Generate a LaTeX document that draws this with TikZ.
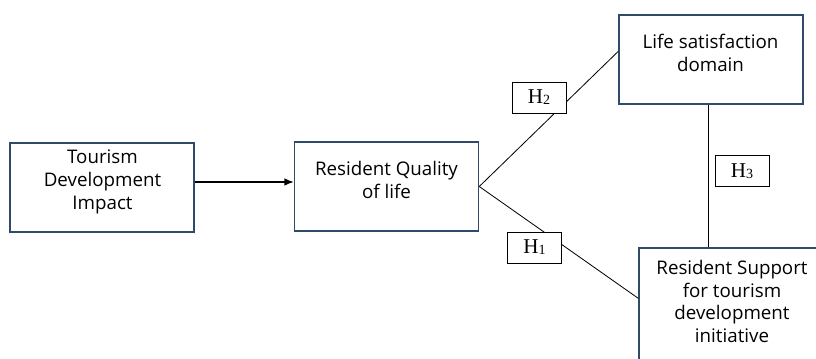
\documentclass[tikz,border=0pt]{standalone}
\usepackage{fontspec}
\setmainfont{Open Sans}
\newfontfamily\hfont{Liberation Serif}
\usetikzlibrary{arrows.meta}
\definecolor{boxblue}{RGB}{47,75,105}

\begin{document}
\begin{tikzpicture}[x=0.03cm,y=-0.03cm,
		box/.style={draw=boxblue,line width=1.3pt,inner sep=0pt,minimum width=5.52cm,minimum height=2.67cm},
		txt/.style={align=center,inner sep=0pt,font=\fontsize{16}{19.5}\selectfont},
		hbox/.style={draw,line width=0.8pt,fill=white,inner sep=0pt,minimum width=1.62cm,minimum height=0.93cm,font=\hfont\fontsize{18}{18}\selectfont},
		link/.style={line width=0.7pt}]
		\useasboundingbox (0,0) rectangle (816,358);
		\clip (0,0) rectangle (816,358);

		% boxes
		\node[box] (impact) at (102,187.5) {};
		\node[txt] (impactText) at (102.5,182) {Tourism\\Development\\Impact};
		\node[box] (quality) at (386.5,186.5) {};
		\node[txt] (qualityText) at (386.5,180) {Resident Quality\\of life};
		\node[box] (domain) at (711,59.5) {};
		\node[txt] (domainText) at (710.5,52.5) {Life satisfaction\\domain};
		\node[box,minimum width=5.58cm,minimum height=3.51cm] (support) at (732,306.5) {};
		\node[txt] (supportText) at (732,301.5) {Resident Support\\for tourism\\development\\initiative};

		% connectors
		\draw[line width=1.1pt,-{Latex[length=8pt,width=6.5pt]}] ([yshift=4.7pt]impact.east) -- ([yshift=4.7pt]impact.east -| quality.west);
		\draw[link] (quality.east) -- (domain.175);
		\draw[link] (quality.east) -- (support.175);
		\draw[link] ([xshift=-2.5pt]domain.south) -- ([xshift=-2.5pt]domain.south |- support.north);

		% hypotheses
		\node[hbox] (H2) at (539,97.5) {H\raisebox{-1pt}{\fontsize{12}{12}\selectfont 2}};
		\node[hbox] (H3) at (742,171) {H\raisebox{-1pt}{\fontsize{12}{12}\selectfont 3}};
		\node[hbox] (H1) at (534.5,247.5) {H\raisebox{-1pt}{\fontsize{12}{12}\selectfont 1}};
	\end{tikzpicture}
\end{document}
